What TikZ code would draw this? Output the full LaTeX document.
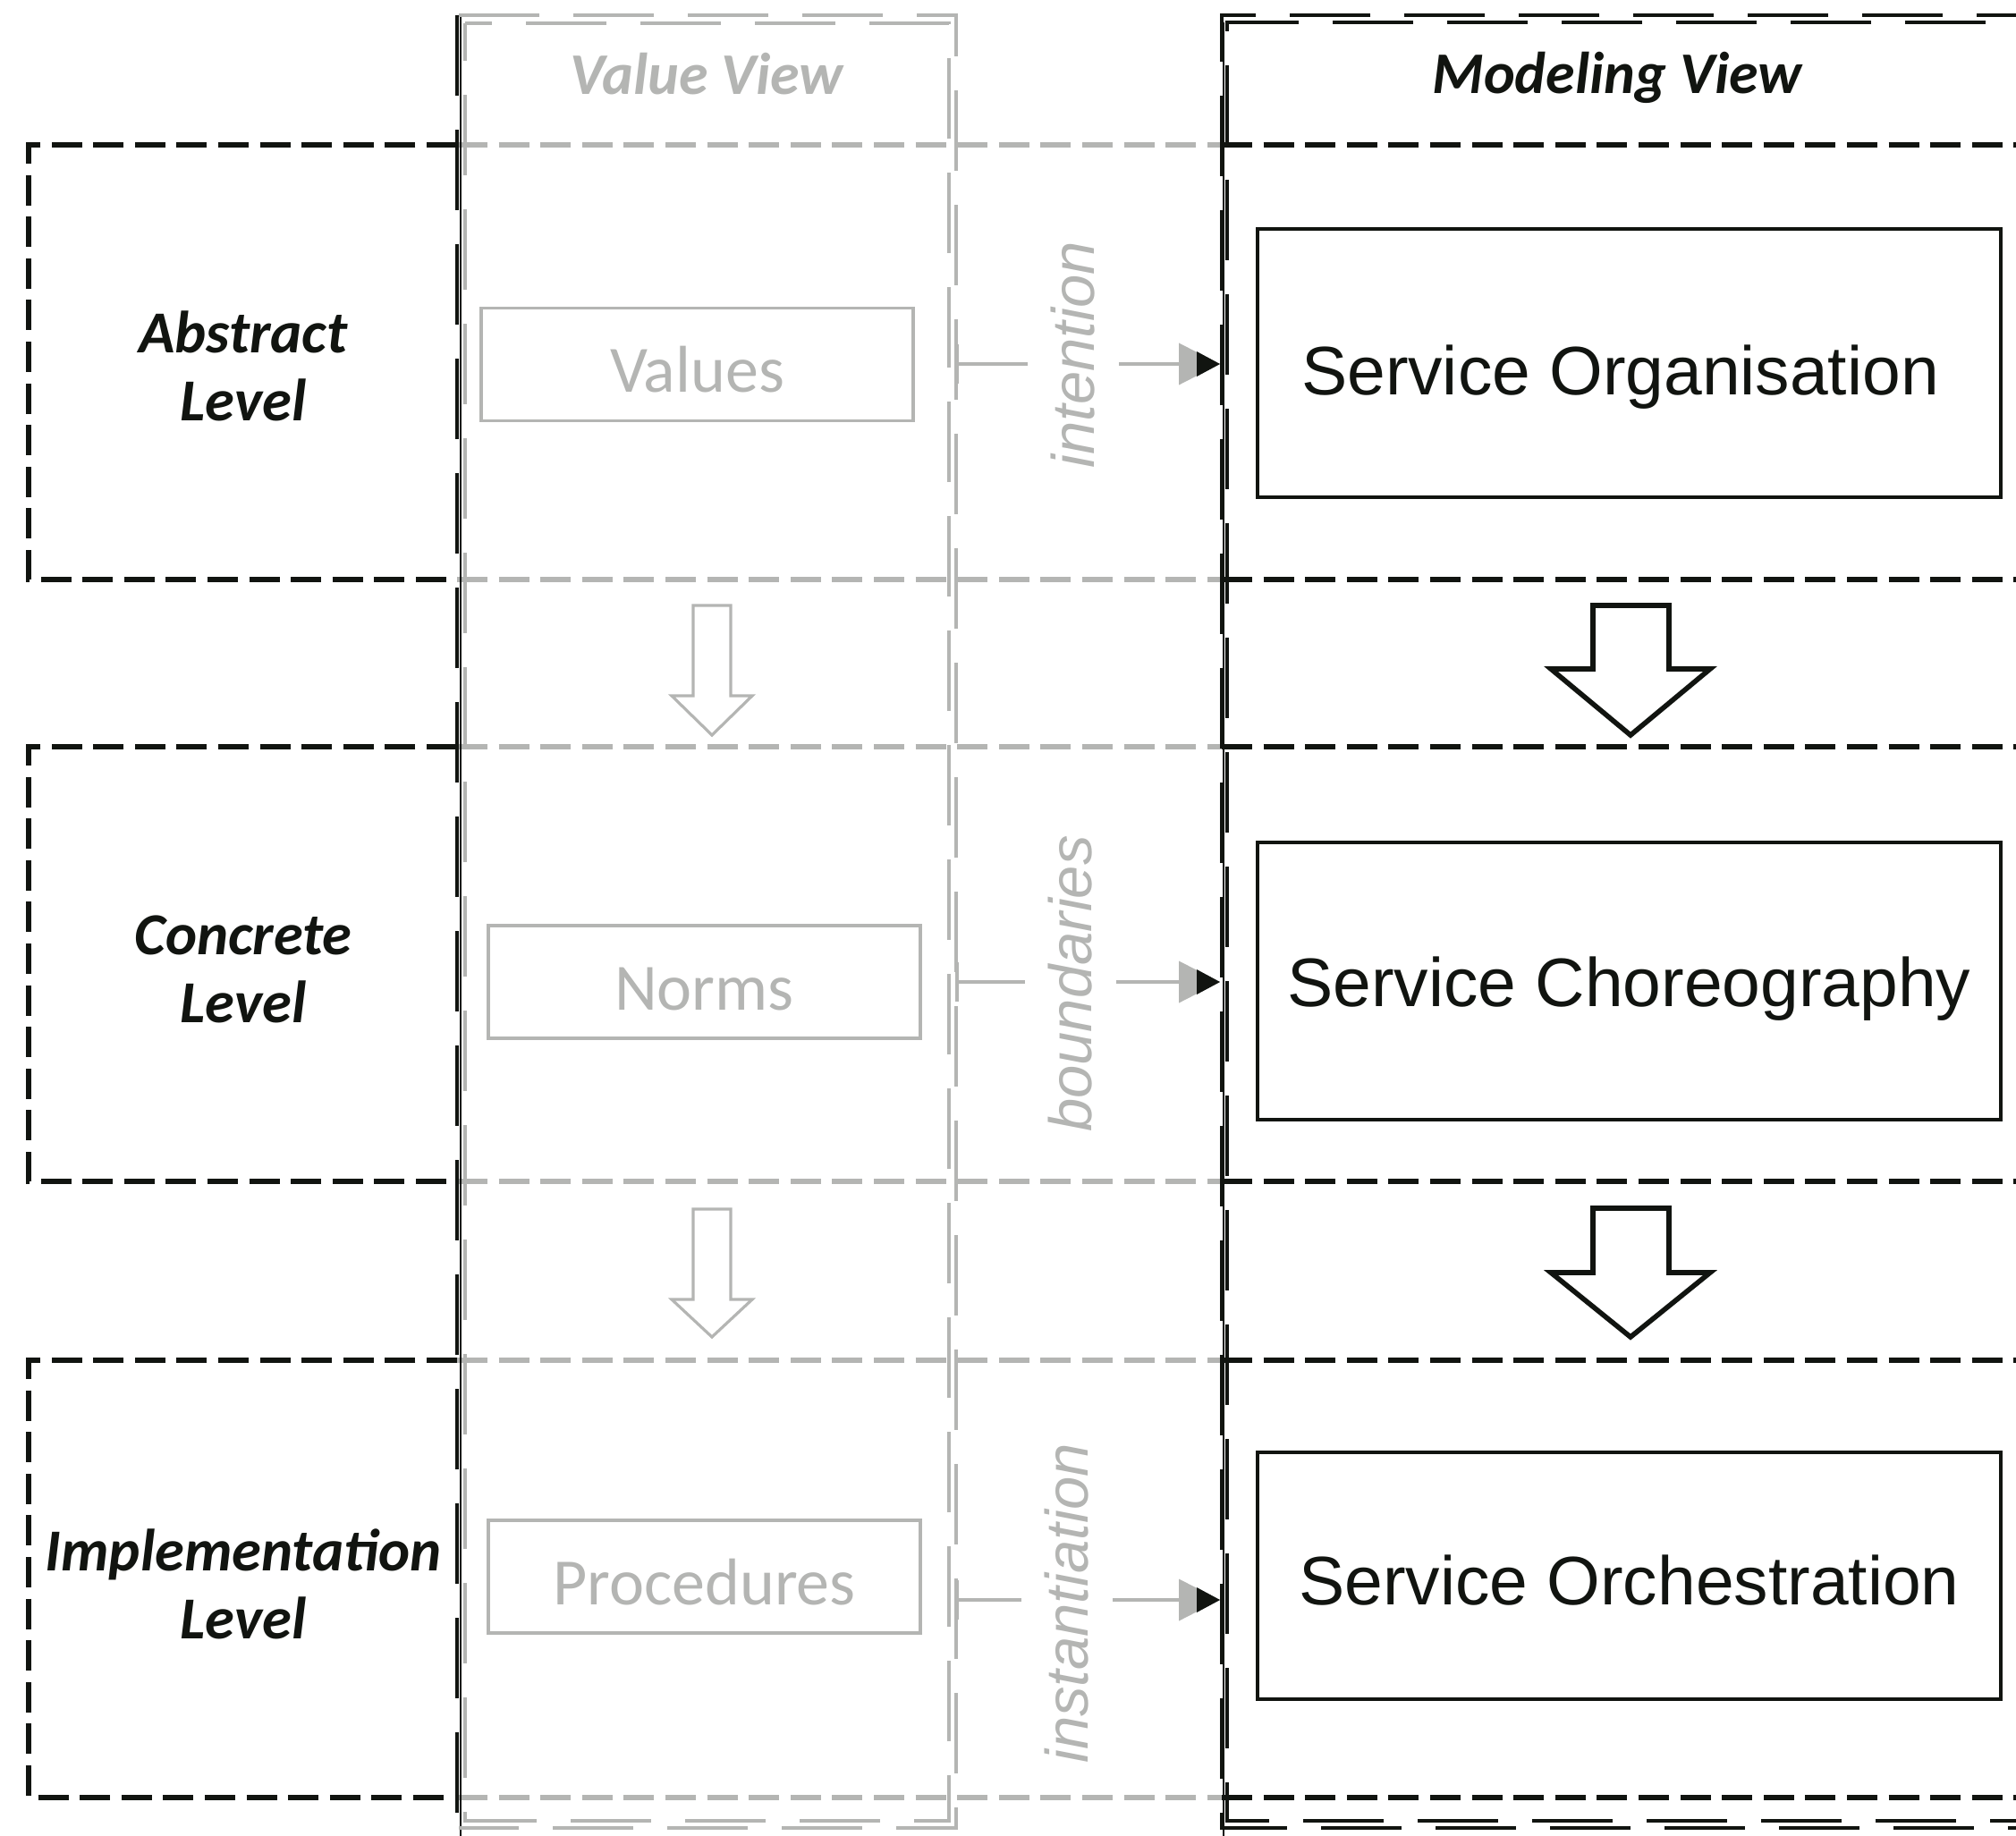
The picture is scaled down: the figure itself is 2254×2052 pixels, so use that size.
\documentclass[tikz,border=0pt]{standalone}
\usepackage{fontspec}
\setmainfont{Carlito}
\newfontfamily\arialf{Liberation Sans}
\usetikzlibrary{arrows.meta,calc}
\definecolor{lgray}{RGB}{180,181,179}
\definecolor{ink}{RGB}{17,20,16}
\begin{document}
\begin{tikzpicture}[x=0.5pt,y=-0.5pt,
  lvl/.style={draw=ink,line width=2.9pt,dash pattern=on 17pt off 6.3pt},
  lvlg/.style={lvl,draw=lgray},
  colk/.style={draw=ink,line width=1.6pt,dash pattern=on 45pt off 19pt},
  colg/.style={draw=lgray,line width=1.6pt,dash pattern=on 45pt off 19pt},
  thinline/.style={line width=0.7pt},
  valbox/.style={draw=lgray,line width=1.6pt,text=lgray,minimum width=241.5pt,minimum height=63pt,inner sep=0pt,text height=31pt,text depth=0pt,font=\fontsize{37}{44}\selectfont},
  svcbox/.style={draw=ink,line width=2.1pt,text=ink,minimum width=415.5pt,inner sep=0pt,text depth=0pt,font=\arialf\fontsize{38.4}{46}\selectfont},
  lvllabel/.style={text=ink,align=center,font=\bfseries\itshape\fontsize{33.3}{38}\selectfont},
  viewtitle/.style={font=\bfseries\itshape\fontsize{33}{38}\selectfont},
  rel/.style={font=\arialf\itshape\fontsize{33.5}{40}\selectfont,text=lgray,rotate=90,fill=white,inner xsep=2pt,inner ysep=13pt},
  conn/.style={draw=lgray,line width=2pt,{Bar[width=22pt,line width=2pt]}-{Triangle[length=23pt,width=23pt]}},
  grayarr/.style={draw=lgray,line width=1.6pt,fill=white,line join=miter},
  blackarr/.style={draw=ink,line width=2.8pt,fill=white,line join=miter},
]
\useasboundingbox (0,0) rectangle (2254,2052);
\clip (0,0) rectangle (2254,2052);

% ---------- level bands ----------
\foreach \t/\b in {162/648, 835/1321, 1521/2010}{
  \draw[lvl]  (511,\t) -- (32,\t) -- (32,\b) -- (511,\b);
  \draw[lvlg] (511,\t) -- (1366,\t);
  \draw[lvlg] (511,\b) -- (1366,\b);
  \draw[lvl]  (1366,\t) -- (2300,\t);
  \draw[lvl]  (1366,\b) -- (2300,\b);
}

% ---------- value view column ----------
\draw[colk] (511,17) -- (511,2060);
\draw[thinline,draw=ink] (515,17) -- (515,2060);
\draw[colg] (513,17) -- (1069,17) -- (1069,2044) -- (513,2044);
\draw[colg,dash phase=24pt] (520,26) rectangle (1061,2036);

% ---------- modeling view column ----------
\draw[colk] (2300,17) -- (1366,17) -- (1366,2044) -- (2300,2044);
\draw[colk,dash phase=24pt] (2300,25) -- (1372,25) -- (1372,2036) -- (2300,2036);
\draw[thinline,draw=ink] (1368,25) -- (1368,2060);

% ---------- titles ----------
\node[viewtitle,text=lgray] (vtitle) at (790,83) {Value View};
\node[viewtitle,text=ink] (mtitle) at (1808,87) {Modeling View};

% ---------- level labels ----------
\node[lvllabel] (labs) at (272,409) {Abstract\\Level};
\node[lvllabel] (lcon) at (272,1084) {Concrete\\Level};
\node[lvllabel] (limp) at (272,1771) {Implementation\\Level};

% ---------- value boxes ----------
\node[valbox] (values) at (779.5,407.5) {Values};
\node[valbox] (norms) at (787.5,1098) {Norms};
\node[valbox] (procs) at (787.5,1763) {Procedures};

% ---------- service boxes ----------
\node[svcbox,minimum height=150pt,text height=35.5pt] (sorg) at (1821.5,406) {\hspace*{-10pt}Service Organisation};
\node[svcbox,minimum height=155pt,text height=28.5pt] (schor) at (1821.5,1097) {Service Choreography};
\node[svcbox,minimum height=138pt,text height=32pt] (sorch) at (1821.5,1762) {Service Orchestration};

% ---------- block arrows ----------
\draw[grayarr] (775,677) -- (817,677) -- (817,778) -- (841,778) -- (796,822) -- (751,778) -- (775,778) -- cycle;
\draw[grayarr] (775,1352) -- (817,1352) -- (817,1453) -- (841,1453) -- (796,1495) -- (751,1453) -- (775,1453) -- cycle;
\draw[blackarr] (1781,677) -- (1866,677) -- (1866,748) -- (1912,748) -- (1823,822) -- (1734,748) -- (1781,748) -- cycle;
\draw[blackarr] (1781,1351) -- (1866,1351) -- (1866,1423) -- (1912,1423) -- (1823,1495) -- (1734,1423) -- (1781,1423) -- cycle;

% ---------- connectors ----------
\coordinate (c1s) at (1068,407);  \coordinate (c1e) at (1364,407);
\coordinate (c2s) at (1068,1098); \coordinate (c2e) at (1364,1098);
\coordinate (c3s) at (1068,1789); \coordinate (c3e) at (1364,1789);
\foreach \i in {1,2,3}{
  \draw[conn] (c\i s) -- (c\i e);
  \fill[ink] (c\i e) -- ++(-26,-14) -- ++(0,28) -- cycle;
}
\node[rel] (lint) at (1200,397) {intention};
\node[rel] (lbnd) at (1197,1100) {boundaries};
\node[rel] (linst) at (1193,1793) {instantiation};
\end{tikzpicture}
\end{document}
